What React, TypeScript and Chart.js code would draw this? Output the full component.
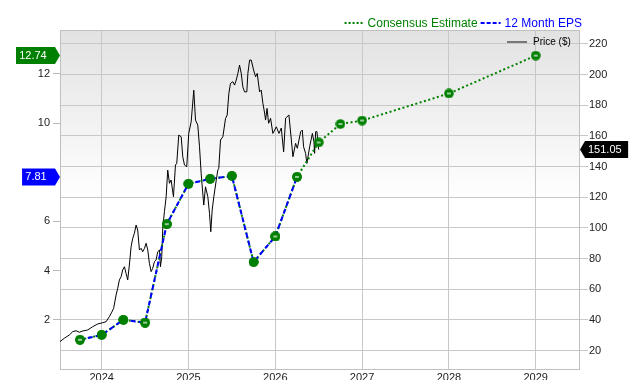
import { useEffect, useRef } from "react";
import { Chart, registerables } from "chart.js";

Chart.register(...registerables);

const yearTicks = [2024, 2025, 2026, 2027, 2028, 2029];
// the 8 label is hidden behind the EPS value badge in the reference
const epsTicks = [2, 4, 6, 10, 12];
const priceTicks = [20, 40, 60, 80, 100, 120, 140, 160, 180, 200, 220];

const epsDates = [2023.75, 2024.0, 2024.25, 2024.5, 2024.75, 2025.0, 2025.25, 2025.5, 2025.75, 2026.0, 2026.25];
const epsValues = [1.19, 1.39, 2.0, 1.89, 5.89, 7.53, 7.73, 7.85, 4.35, 5.39, 7.81];

const estimateDates = [2023.75, 2024.0, 2024.25, 2024.5, 2024.75, 2025.0, 2025.25, 2025.5, 2025.75, 2026.0, 2026.25, 2026.5, 2026.75, 2027.0, 2028.0, 2029.0];
const estimateValues = [1.19, 1.39, 2.0, 1.89, 5.89, 7.53, 7.73, 7.85, 4.35, 5.39, 7.81, 9.21, 9.96, 10.1, 11.2, 12.74];

// EPS points drawn with the estimate-style marker
const epsMarkedIdx = [0, 3, 4, 9, 10];

const priceDates = [
  2023.52, 2023.57, 2023.627, 2023.666, 2023.705, 2023.743, 2023.781, 2023.839, 2023.896, 2023.954,
  2024.012, 2024.051, 2024.089, 2024.112, 2024.138, 2024.166, 2024.185, 2024.204, 2024.224, 2024.242,
  2024.262, 2024.281, 2024.3, 2024.319, 2024.339, 2024.358, 2024.377, 2024.397, 2024.415, 2024.435,
  2024.454, 2024.473, 2024.493, 2024.512, 2024.531, 2024.55, 2024.57, 2024.588, 2024.608, 2024.627,
  2024.646, 2024.666, 2024.677, 2024.692, 2024.704, 2024.723, 2024.743, 2024.761, 2024.781, 2024.8,
  2024.827, 2024.85, 2024.865, 2024.888, 2024.916, 2024.934, 2024.954, 2024.98, 2025.003, 2025.031,
  2025.061, 2025.081, 2025.107, 2025.127, 2025.146, 2025.176, 2025.196, 2025.223, 2025.242, 2025.257,
  2025.273, 2025.292, 2025.32, 2025.338, 2025.349, 2025.369, 2025.396, 2025.427, 2025.446, 2025.465,
  2025.484, 2025.511, 2025.531, 2025.55, 2025.569, 2025.588, 2025.608, 2025.626, 2025.646, 2025.672,
  2025.684, 2025.704, 2025.723, 2025.75, 2025.773, 2025.792, 2025.819, 2025.838, 2025.857, 2025.877,
  2025.888, 2025.905, 2025.923, 2025.946, 2025.972, 2026.012, 2026.042, 2026.069, 2026.096, 2026.119,
  2026.157, 2026.185, 2026.203, 2026.234, 2026.254, 2026.292, 2026.311, 2026.326, 2026.349, 2026.364,
  2026.396, 2026.427, 2026.445, 2026.453, 2026.465, 2026.48, 2026.491, 2026.5,
];
const priceValues = [
  25.9, 28.1, 30.2, 32.4, 33.0, 32.0, 32.8, 33.5, 35.6, 37.4,
  38.2, 38.9, 42.2, 44.6, 47.6, 56.3, 60.7, 66.1, 68.2, 72.6,
  74.7, 70.4, 66.1, 75.8, 87.8, 93.2, 96.5, 101.9, 98.6, 85.6,
  86.7, 84.5, 86.7, 90.0, 85.6, 76.9, 71.5, 73.7, 78.0, 79.1,
  84.5, 85.6, 74.7, 81.2, 99.9, 110.6, 120.3, 137.7, 129.1, 131.2,
  120.3, 141.0, 142.1, 160.5, 159.4, 146.4, 141.0, 139.9, 161.6, 169.2,
  189.8, 170.3, 167.0, 152.9, 135.6, 114.9, 126.8, 120.3, 109.5, 97.5,
  111.7, 120.3, 131.2, 137.7, 138.8, 157.3, 159.4, 171.4, 173.6, 187.7,
  194.2, 195.3, 193.1, 196.4, 200.7, 206.1, 200.7, 192.0, 188.7, 188.7,
  200.7, 209.4, 209.4, 202.9, 198.5, 200.7, 188.7, 189.8, 181.2, 174.9,
  170.3, 177.9, 168.2, 171.4, 161.6, 165.9, 161.6, 165.1, 149.6, 171.6,
  173.6, 157.3, 146.4, 155.1, 151.9, 162.7, 163.8, 152.9, 148.6, 142.1,
  152.9, 161.6, 156.2, 148.6, 162.7, 162.7, 155.1, 151.05,
];

const FONT = '"Liberation Sans", Arial, Helvetica, sans-serif';
const GREEN = "#008000";
const BLUE = "#0000ff";
const GRID = "#c8c8c8";

function makeMarker(): HTMLCanvasElement {
  const c = document.createElement("canvas");
  c.width = 10;
  c.height = 10;
  const g = c.getContext("2d")!;
  g.fillStyle = GREEN;
  g.beginPath();
  g.arc(5, 5, 4.8, 0, Math.PI * 2);
  g.fill();
  g.strokeStyle = "#ffffff";
  g.lineWidth = 1.2;
  g.beginPath();
  g.moveTo(3, 5);
  g.lineTo(7, 5);
  g.stroke();
  return c;
}

function badge(ctx: CanvasRenderingContext2D, text: string, tipX: number, y: number, color: string, dir: "left" | "right") {
  ctx.save();
  ctx.font = `11px ${FONT}`;
  const w = ctx.measureText(text).width;
  const h = 17;
  const arrow = 5;
  ctx.fillStyle = color;
  ctx.beginPath();
  if (dir === "right") {
    const rRight = tipX - arrow;
    const rLeft = rRight - w - 3 - 8.5;
    ctx.moveTo(rLeft, y - h / 2);
    ctx.lineTo(rRight, y - h / 2);
    ctx.lineTo(tipX, y);
    ctx.lineTo(rRight, y + h / 2);
    ctx.lineTo(rLeft, y + h / 2);
    ctx.closePath();
    ctx.fill();
    ctx.fillStyle = "#ffffff";
    ctx.textAlign = "left";
    ctx.textBaseline = "middle";
    ctx.fillText(text, rLeft + 3.2, y + 0.5);
  } else {
    const rLeft = tipX + arrow;
    const rRight = rLeft + 3 + w + 6.5;
    ctx.moveTo(tipX, y);
    ctx.lineTo(rLeft, y - h / 2);
    ctx.lineTo(rRight, y - h / 2);
    ctx.lineTo(rRight, y + h / 2);
    ctx.lineTo(rLeft, y + h / 2);
    ctx.closePath();
    ctx.fill();
    ctx.fillStyle = "#ffffff";
    ctx.textAlign = "left";
    ctx.textBaseline = "middle";
    ctx.fillText(text, rLeft + 3, y + 0.5);
  }
  ctx.restore();
}

const decorPlugin = {
  id: "decor",
  beforeDraw(chart: any) {
    const { ctx, chartArea: a } = chart;
    const g = ctx.createLinearGradient(0, a.top, 0, a.bottom);
    g.addColorStop(0, "#e2e2e2");
    g.addColorStop(0.5, "#ffffff");
    g.addColorStop(1, "#ffffff");
    ctx.save();
    ctx.fillStyle = g;
    ctx.fillRect(a.left, a.top, a.right - a.left, a.bottom - a.top);
    ctx.restore();
  },
  beforeDatasetsDraw(chart: any) {
    const { ctx, chartArea: a } = chart;
    ctx.save();
    ctx.strokeStyle = "#c0c0c0";
    ctx.lineWidth = 1;
    ctx.strokeRect(a.left + 0.5, a.top + 0.5, a.right - a.left - 1, a.bottom - a.top - 1);
    ctx.restore();
  },
  afterDraw(chart: any) {
    const { ctx, chartArea: a, scales } = chart;
    // top legend
    ctx.save();
    ctx.font = `12px ${FONT}`;
    ctx.textBaseline = "middle";
    ctx.textAlign = "left";
    const ly = 23;
    const t2 = "12 Month EPS";
    const t1 = "Consensus Estimate";
    const w2 = ctx.measureText(t2).width;
    const w1 = ctx.measureText(t1).width;
    const x2 = a.right + 2 - w2;
    const s2e = x2 - 4;
    const s2s = s2e - 20;
    const x1 = s2s - 3 - w1;
    const s1e = x1 - 4;
    const s1s = s1e - 19;
    ctx.lineWidth = 2;
    ctx.strokeStyle = GREEN;
    ctx.setLineDash([2, 2]);
    ctx.beginPath();
    ctx.moveTo(s1s, ly);
    ctx.lineTo(s1e, ly);
    ctx.stroke();
    ctx.fillStyle = GREEN;
    ctx.fillText(t1, x1, ly + 0.5);
    ctx.strokeStyle = BLUE;
    ctx.setLineDash([4, 2]);
    ctx.beginPath();
    ctx.moveTo(s2s, ly);
    ctx.lineTo(s2e, ly);
    ctx.stroke();
    ctx.fillStyle = BLUE;
    ctx.fillText(t2, x2, ly + 0.5);
    ctx.setLineDash([]);
    // price legend
    const py = 42;
    ctx.strokeStyle = "#777777";
    ctx.lineWidth = 2;
    ctx.beginPath();
    ctx.moveTo(507, py);
    ctx.lineTo(527, py);
    ctx.stroke();
    ctx.font = `10px ${FONT}`;
    ctx.fillStyle = "#000000";
    ctx.fillText("Price ($)", 533, py + 0.5);
    ctx.restore();

    // value badges
    const yE = scales.yEps;
    const yP = scales.yPrice;
    const lastEst = estimateValues[estimateValues.length - 1];
    const lastEps = epsValues[epsValues.length - 1];
    const lastPrice = priceValues[priceValues.length - 1];
    badge(ctx, lastEst.toFixed(2), a.left, yE.getPixelForValue(lastEst), GREEN, "right");
    badge(ctx, lastEps.toFixed(2), a.left, yE.getPixelForValue(lastEps), BLUE, "right");
    badge(ctx, lastPrice.toFixed(2), a.right, yP.getPixelForValue(lastPrice), "#000000", "left");
  },
};

export default function App() {
  const ref = useRef<HTMLCanvasElement | null>(null);

  useEffect(() => {
    if (!ref.current) return;
    const marker = makeMarker();
    Chart.defaults.font.family = FONT;
    const tickFont = { size: 11, family: FONT };

    const chart = new Chart(ref.current, {
      type: "line",
      data: {
        datasets: [
          {
            label: "12 Month EPS",
            data: epsDates.map((d, i) => ({ x: d, y: epsValues[i] })),
            yAxisID: "yEps",
            borderColor: BLUE,
            borderWidth: 2,
            borderDash: [5, 3],
            pointRadius: 4.8,
            pointBackgroundColor: GREEN,
            pointBorderWidth: 0,
            pointStyle: (c: any) => (epsMarkedIdx.includes(c.dataIndex) ? marker : "circle"),
            order: 1,
          },
          {
            label: "Consensus Estimate",
            data: estimateDates.map((d, i) => ({ x: d, y: estimateValues[i] })),
            yAxisID: "yEps",
            borderColor: GREEN,
            borderWidth: 2,
            borderDash: [2, 2.5],
            pointRadius: 4.8,
            pointBackgroundColor: GREEN,
            pointBorderWidth: 0,
            pointStyle: marker as any,
            order: 2,
          },
          {
            label: "Price ($)",
            data: priceDates.map((d, i) => ({ x: d, y: priceValues[i] })),
            yAxisID: "yPrice",
            borderColor: "#000000",
            borderWidth: 1,
            pointRadius: 0,
            order: 3,
          },
        ],
      },
      options: {
        animation: false,
        responsive: true,
        maintainAspectRatio: false,
        devicePixelRatio: 1,
        layout: { padding: { top: 30, left: 0, right: 0, bottom: 0 } },
        elements: { line: { tension: 0 } },
        plugins: {
          legend: { display: false },
          tooltip: { enabled: false },
        },
        scales: {
          x: {
            type: "linear",
            min: 2023.52,
            max: 2029.51,
            afterBuildTicks: (s: any) => {
              s.ticks = yearTicks.map((v) => ({ value: v }));
            },
            afterFit: (s: any) => {
              s.height = 14;
            },
            ticks: {
              callback: (v: any) => String(v),
              font: tickFont,
              color: "#222222",
              padding: 1,
              maxRotation: 0,
              autoSkip: false,
            },
            grid: { color: GRID, drawTicks: false },
            border: { display: false },
          },
          yEps: {
            type: "linear",
            position: "left",
            min: -0.037,
            max: 13.78,
            afterBuildTicks: (s: any) => {
              s.ticks = epsTicks.map((v) => ({ value: v }));
            },
            afterFit: (s: any) => {
              s.width = 60;
            },
            ticks: { font: tickFont, color: "#222222", padding: 3 },
            grid: { drawOnChartArea: false, color: "#b8b8b8", tickLength: 7 },
            border: { display: false },
          },
          yPrice: {
            type: "linear",
            position: "right",
            min: 7.4,
            max: 229,
            afterBuildTicks: (s: any) => {
              s.ticks = priceTicks.map((v) => ({ value: v }));
            },
            afterFit: (s: any) => {
              s.width = 60;
            },
            ticks: { font: tickFont, color: "#222222", padding: 1 },
            grid: { color: GRID, tickLength: 8 },
            border: { display: false },
          },
        },
      },
      plugins: [decorPlugin],
    } as any);

    return () => chart.destroy();
  }, []);

  return (
    <div style={{ position: "fixed", left: 0, top: 0, width: 640, height: 384, background: "#ffffff" }}>
      <canvas ref={ref} />
    </div>
  );
}
